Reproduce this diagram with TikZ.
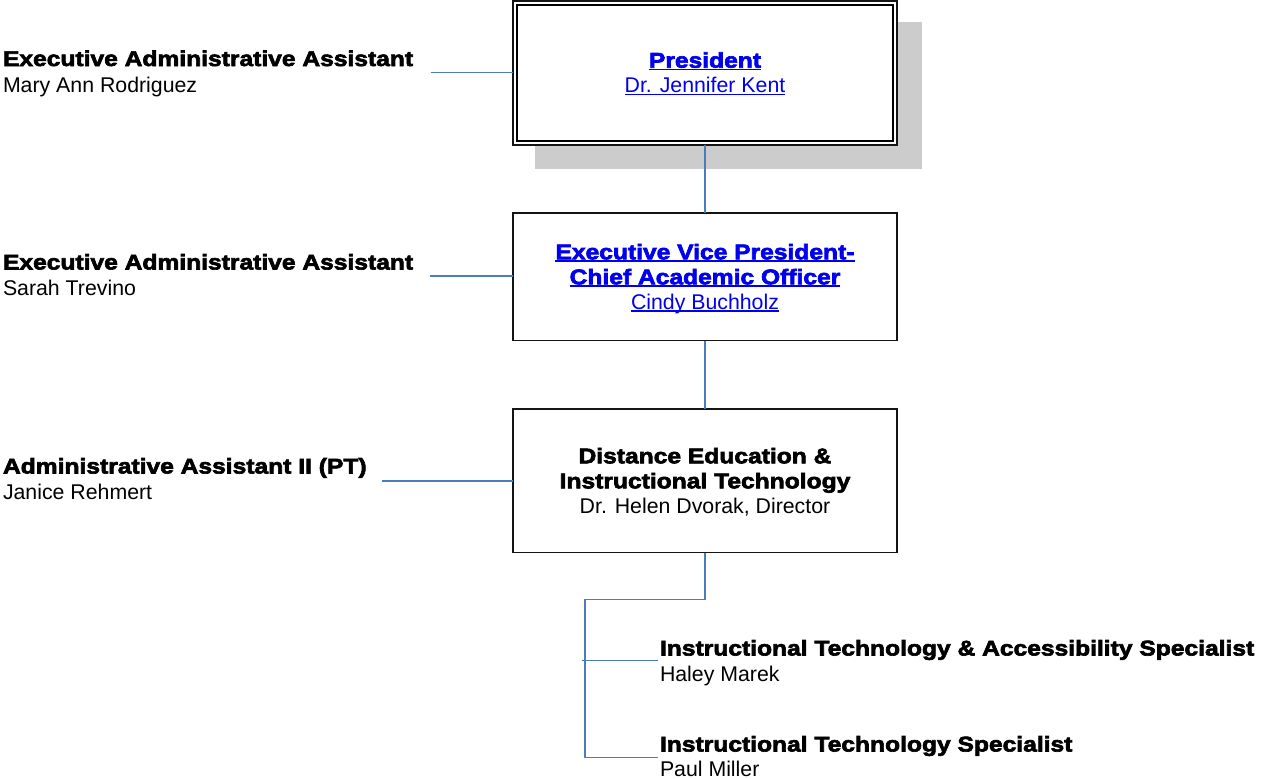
\documentclass[tikz,border=0pt]{standalone}
\usepackage{fontspec}
\setmainfont{Liberation Sans}
\newfontfamily\blk{Liberation Sans Bold}[FakeBold=3,FakeStretch=1.155]
\newlength\ulw
\newcommand\lnkul[1]{\settowidth{\ulw}{#1}\rlap{\rule[-2.4pt]{\ulw}{1.3pt}}#1}
\definecolor{linkblue}{RGB}{0,0,238}
\definecolor{connblue}{RGB}{74,126,187}
\definecolor{shadegray}{RGB}{204,204,204}
\tikzset{
  ttl/.style={inner sep=0pt, outer sep=0pt, font=\blk\fontsize{21.3}{25}\selectfont},
  nm/.style={inner sep=0pt, outer sep=0pt, font=\fontsize{21.3}{25}\selectfont},
  lnk/.style={text=linkblue},
  boxframe/.style={draw=black!92, line width=1.8pt, fill=white, inner sep=0pt, outer sep=0pt,
    minimum width=384pt},
  conn/.style={draw=connblue, line width=1.6pt},
}
\begin{document}
\begin{tikzpicture}[x=1pt,y=-1pt]
\useasboundingbox (0,0) rectangle (1262,779);
% shadow and president box
\node[fill=shadegray, inner sep=0pt, minimum width=387pt, minimum height=147pt] (shadow) at (728.5,95.5) {};
\node[boxframe, line width=2pt, minimum height=144pt] (pres) at (705,73) {};
\node[draw=black, line width=1.7pt, inner sep=0pt, outer sep=0pt, minimum width=376pt, minimum height=136pt] (presin) at (705,73) {};
\node[ttl, lnk, anchor=base] (prest) at (705,67.7) {\lnkul{President}};
\node[nm, lnk, anchor=base] (presn) at (705,92.7) {\lnkul{Dr. Jennifer Kent}};
% EVP box
\node[boxframe, minimum height=127.5pt] (evp) at (705,276.75) {};
\node[ttl, lnk, anchor=base] (evpt1) at (705,259.3) {\lnkul{Executive Vice President-}};
\node[ttl, lnk, anchor=base] (evpt2) at (705,284.3) {\lnkul{Chief Academic Officer}};
\node[nm, lnk, anchor=base] (evpn) at (705,309.3) {\lnkul{Cindy Buchholz}};
% DE box
\node[boxframe, minimum height=143.5pt] (de) at (705,480.75) {};
\node[ttl, anchor=base] (det1) at (705,463.3) {Distance Education \&};
\node[ttl, anchor=base] (det2) at (705,488.3) {Instructional Technology};
\node[nm, anchor=base] (den) at (705,513.3) {Dr. Helen Dvorak, Director};
% left labels
\node[ttl, anchor=base west] (a1t) at (3,66) {Executive Administrative Assistant};
\node[nm, anchor=base west] (a1n) at (3,92) {Mary Ann Rodriguez};
\node[ttl, anchor=base west] (a2t) at (3,269.5) {Executive Administrative Assistant};
\node[nm, anchor=base west] (a2n) at (3,295.5) {Sarah Trevino};
\node[ttl, anchor=base west] (a3t) at (3,473.5) {Administrative Assistant II (PT)};
\node[nm, anchor=base west] (a3n) at (3,499.5) {Janice Rehmert};
% right labels
\node[ttl, anchor=base west] (s1t) at (660,655.5) {Instructional Technology \& Accessibility Specialist};
\node[nm, anchor=base west] (s1n) at (660,681.5) {Haley Marek};
\node[ttl, anchor=base west] (s2t) at (660,751.5) {Instructional Technology Specialist};
\node[nm, anchor=base west] (s2n) at (660,776.5) {Paul Miller};
% connectors
\coordinate (c1) at (430.5,72.5);
\coordinate (c2) at (430,276);
\coordinate (c3) at (382,481);
\draw[conn] (c1) -- (c1 -| pres.west);
\draw[conn] (c2) -- (c2 -| evp.west);
\draw[conn] (c3) -- (c3 -| de.west);
\draw[conn] (pres.south) -- (evp.north);
\draw[conn] (evp.south) -- (de.north);
\coordinate (j1) at (705,599.5);
\coordinate (j2) at (585,599.5);
\coordinate (j3) at (585,757.5);
\coordinate (e2) at (658,757.5);
\coordinate (b1) at (581.5,660.5);
\coordinate (e1) at (658,660.5);
\draw[conn] (de.south) -- (j1) -- (j2) -- (j3) -- (e2);
\draw[conn] (b1) -- (e1);
\end{tikzpicture}
\end{document}
